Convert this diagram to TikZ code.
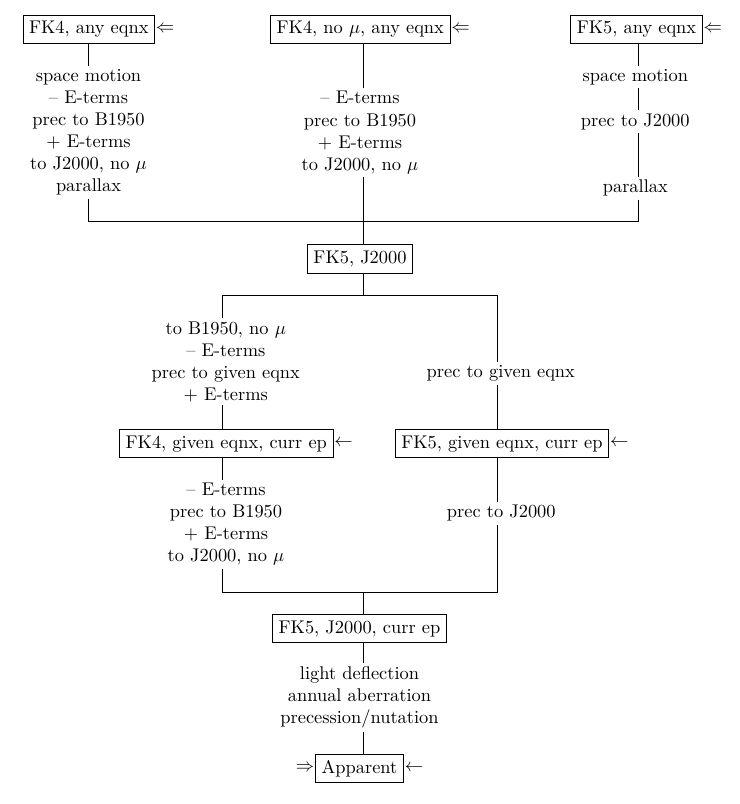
\documentclass[tikz,border=0pt]{standalone}
\begin{document}
\begin{tikzpicture}[x=0.5435pt, y=-0.5435pt,
  box/.style={draw, line width=0.45pt, inner xsep=3.3pt, inner ysep=3.2pt, text height=7pt, text depth=2pt},
  lbl/.style={align=center, inner xsep=1pt, inner ysep=1.6pt},
  arr/.style={inner sep=0.3pt},
  conn/.style={line width=0.45pt}]
\useasboundingbox (0,0) rectangle (739,804);

% top row
\node[box] (A) at (88.8,29.2) {FK4, any eqnx};
\node[arr,anchor=west] (Aar) at (A.east) {$\Leftarrow$};
\node[box] (B) at (360.3,29.2) {FK4, no $\mu$, any eqnx};
\node[arr,anchor=west] (Bar) at (B.east) {$\Leftarrow$};
\node[box] (C) at (636.5,29.2) {FK5, any eqnx};
\node[arr,anchor=west] (Car) at (C.east) {$\Leftarrow$};

\node[lbl] (tA) at (88.5,132.5) {space motion\\-- E-terms\\prec to B1950\\$+$ E-terms\\to J2000, no $\mu$\\parallax};
\node[lbl] (tB) at (360,132.6) {-- E-terms\\prec to B1950\\$+$ E-terms\\to J2000, no $\mu$};
\node[lbl] (tC1) at (635.3,77.3) {space motion};
\node[lbl] (tC2) at (635.3,121.7) {prec to J2000};
\node[lbl] (tC3) at (635.3,188.3) {parallax};

\node[box] (D) at (360,258.8) {FK5, J2000};

\coordinate (b1L) at (88.5,221);
\coordinate (b1M) at (363.7,221);
\coordinate (b1R) at (638.5,221);

\draw[conn] (A.south -| b1L) -- (tA.north -| b1L);
\draw[conn] (tA.south -| b1L) -- (b1L) -- (b1R);
\draw[conn] (B.south -| b1M) -- (tB.north -| b1M);
\draw[conn] (tB.south -| b1M) -- (D.north -| b1M);
\draw[conn] (C.south -| b1R) -- (tC1.north -| b1R);
\draw[conn] (tC1.south -| b1R) -- (tC2.north -| b1R);
\draw[conn] (tC2.south -| b1R) -- (tC3.north -| b1R);
\draw[conn] (tC3.south -| b1R) -- (b1R);

% middle row
\node[lbl] (tE1) at (225.8,361.8) {to B1950, no $\mu$\\-- E-terms\\prec to given eqnx\\$+$ E-terms};
\node[lbl] (tF1) at (500.8,373.3) {prec to given eqnx};
\node[box] (E) at (226.3,443.4) {FK4, given eqnx, curr ep};
\node[arr,anchor=west] (Ear) at (E.east) {$\leftarrow$};
\node[box] (F) at (502,443.4) {FK5, given eqnx, curr ep};
\node[arr,anchor=west] (Far) at (F.east) {$\leftarrow$};

\coordinate (b2L) at (222.3,295);
\coordinate (b2M) at (363.7,295);
\coordinate (b2R) at (497.8,295);

\draw[conn] (D.south -| b2M) -- (b2M);
\draw[conn] (b2L) -- (b2R);
\draw[conn] (b2L) -- (tE1.north -| b2L);
\draw[conn] (tE1.south -| b2L) -- (E.north -| b2L);
\draw[conn] (b2R) -- (tF1.north -| b2R);
\draw[conn] (tF1.south -| b2R) -- (F.north -| b2R);

% lower row
\node[lbl] (tE2) at (226,524.4) {-- E-terms\\prec to B1950\\$+$ E-terms\\to J2000, no $\mu$};
\node[lbl] (tF2) at (501.3,513.3) {prec to J2000};
\node[box] (G) at (359.5,628.5) {FK5, J2000, curr ep};

\coordinate (b3L) at (222.3,592);
\coordinate (b3M) at (363.7,592);
\coordinate (b3R) at (497.8,592);

\draw[conn] (E.south -| b3L) -- (tE2.north -| b3L);
\draw[conn] (tE2.south -| b3L) -- (b3L) -- (b3R) -- (tF2.south -| b3R);
\draw[conn] (tF2.north -| b3R) -- (F.south -| b3R);
\draw[conn] (b3M) -- (G.north -| b3M);

% bottom
\node[lbl] (tG) at (359.5,697.6) {light deflection\\annual aberration\\precession/nutation};
\node[box] (H) at (359.5,768.5) {Apparent};
\node[arr,anchor=east] (Hin) at (H.west) {$\Rightarrow$};
\node[arr,anchor=west] (Har) at (H.east) {$\leftarrow$};

\draw[conn] (G.south -| b3M) -- (tG.north -| b3M);
\draw[conn] (tG.south -| b3M) -- (H.north -| b3M);
\end{tikzpicture}
\end{document}
